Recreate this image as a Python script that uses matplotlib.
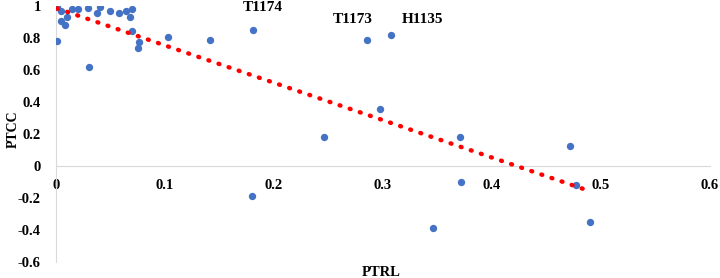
import numpy as np
import matplotlib
matplotlib.use("Agg")
import matplotlib.pyplot as plt

plt.rcParams['font.family'] = ['Liberation Serif', 'DejaVu Serif']
plt.rcParams['font.weight'] = 'bold'

# PTRL vs PTCC values
ptrl = [0.001, 0.001, 0.005, 0.005, 0.008, 0.010, 0.015, 0.020, 0.029, 0.040,
        0.038, 0.050, 0.058, 0.064, 0.070, 0.068, 0.070, 0.076, 0.075, 0.030,
        0.103, 0.141, 0.181, 0.285, 0.307, 0.297, 0.246, 0.371, 0.180, 0.372,
        0.346, 0.472, 0.477, 0.490]
ptcc = [0.996, 0.780, 0.970, 0.906, 0.880, 0.930, 0.980, 0.980, 0.988, 0.992,
        0.954, 0.971, 0.958, 0.971, 0.983, 0.929, 0.846, 0.777, 0.740, 0.620,
        0.810, 0.790, 0.850, 0.790, 0.817, 0.358, 0.180, 0.180, -0.190, -0.100,
        -0.386, 0.127, -0.119, -0.352]

# data labels (placed where the chart shows them)
labels = ['T1174', 'T1173', 'H1135']
label_x = [0.190, 0.272, 0.336]
label_y = [0.994, 0.919, 0.919]

xticks = [0, 0.1, 0.2, 0.3, 0.4, 0.5, 0.6]
yticks = [-0.6, -0.4, -0.2, 0, 0.2, 0.4, 0.6, 0.8, 1]

fig = plt.figure(figsize=(7.2, 2.78), dpi=100)
ax = fig.add_axes([0.0778, 0.0576, 0.908, 0.9204])

ax.scatter(ptrl, ptcc, s=28, color='#4472C4', zorder=3, linewidths=0)

# linear trendline
k, b = np.polyfit(ptrl, ptcc, 1)
tx = np.array([min(ptrl), max(ptrl)])
ax.plot(tx, k * tx + b, color='red', lw=3.2, ls=(0, (0.2, 2.2)),
        dash_capstyle='round', zorder=4)

for t, lx, ly in zip(labels, label_x, label_y):
    ax.text(lx, ly, t, ha='center', va='center', fontsize=11,
            fontweight='bold', clip_on=False)

ax.set_xlim(0, 0.6)
ax.set_ylim(-0.6, 1)
ax.set_xticks(xticks)
ax.set_xticklabels([f'{v:g}' for v in xticks])
ax.set_yticks(yticks)
ax.set_yticklabels([f'{v:g}' for v in yticks])

for s in ['top', 'right']:
    ax.spines[s].set_visible(False)
ax.spines['bottom'].set_position(('data', 0))
ax.spines['bottom'].set_color('#d9d9d9')
ax.spines['left'].set_color('#d9d9d9')
ax.tick_params(length=0, labelsize=10.5)
ax.tick_params(axis='x', pad=9)
ax.tick_params(axis='y', pad=11)

fig.text(381 / 720, 1 - 273 / 278, 'PTRL', ha='center', va='center',
         fontsize=10.5, fontweight='bold')
fig.text(13 / 720, 1 - 129 / 278, 'PTCC', ha='center', va='center', rotation=90,
         fontsize=10, fontweight='bold')

fig.savefig('out.png', dpi=100)
